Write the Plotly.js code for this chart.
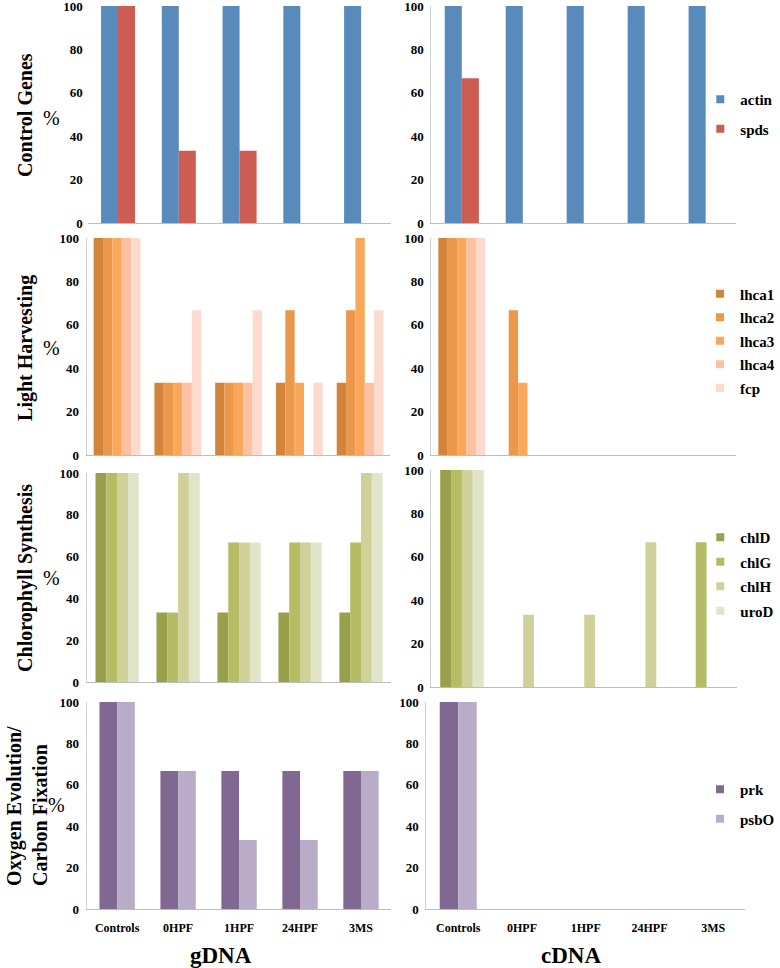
<!DOCTYPE html>
<html>
<head>
<meta charset="utf-8">
<script src="https://cdn.plot.ly/plotly-3.0.1.min.js"></script>
<style>html,body{margin:0;padding:0;background:#fff;}#chart{width:780px;height:968px;}</style>
</head>
<body>
<div id="chart"></div>
<script>
// ---- data ----
const categories = ['Controls', '0HPF', '1HPF', '24HPF', '3MS'];

const controlNames = ['actin', 'spds'];
const control_gDNA_actin = [100, 100, 100, 100, 100];
const control_gDNA_spds  = [100, 33.3, 33.3, 0, 0];
const control_cDNA_actin = [100, 100, 100, 100, 100];
const control_cDNA_spds  = [66.7, 0, 0, 0, 0];

const lightNames = ['lhca1', 'lhca2', 'lhca3', 'lhca4', 'fcp'];
const light_gDNA_lhca1 = [100, 33.3, 33.3, 33.3, 33.3];
const light_gDNA_lhca2 = [100, 33.3, 33.3, 66.7, 66.7];
const light_gDNA_lhca3 = [100, 33.3, 33.3, 33.3, 100];
const light_gDNA_lhca4 = [100, 33.3, 33.3, 0, 33.3];
const light_gDNA_fcp   = [100, 66.7, 66.7, 33.3, 66.7];
const light_cDNA_lhca1 = [100, 0, 0, 0, 0];
const light_cDNA_lhca2 = [100, 66.7, 0, 0, 0];
const light_cDNA_lhca3 = [100, 33.3, 0, 0, 0];
const light_cDNA_lhca4 = [100, 0, 0, 0, 0];
const light_cDNA_fcp   = [100, 0, 0, 0, 0];

const chlNames = ['chlD', 'chlG', 'chlH', 'uroD'];
const chl_gDNA_chlD = [100, 33.3, 33.3, 33.3, 33.3];
const chl_gDNA_chlG = [100, 33.3, 66.7, 66.7, 66.7];
const chl_gDNA_chlH = [100, 100, 66.7, 66.7, 100];
const chl_gDNA_uroD = [100, 100, 66.7, 66.7, 100];
const chl_cDNA_chlD = [100, 0, 0, 0, 0];
const chl_cDNA_chlG = [100, 0, 0, 0, 66.7];
const chl_cDNA_chlH = [100, 33.3, 33.3, 66.7, 0];
const chl_cDNA_uroD = [100, 0, 0, 0, 0];

const oxyNames = ['prk', 'psbO'];
const oxy_gDNA_prk  = [100, 66.7, 66.7, 66.7, 66.7];
const oxy_gDNA_psbO = [100, 66.7, 33.3, 33.3, 66.7];
const oxy_cDNA_prk  = [100, 0, 0, 0, 0];
const oxy_cDNA_psbO = [100, 0, 0, 0, 0];

const rowTitles = ['Control Genes', 'Light Harvesting', 'Chlorophyll Synthesis', 'Oxygen Evolution/<br>Carbon Fixation'];
const colTitles = ['gDNA', 'cDNA'];
const yTicks = [0, 20, 40, 60, 80, 100];

// ---- styling ----
const controlColors = ['rgb(88,139,187)', 'rgb(205,92,82)'];
const lightColors = ['rgb(210,132,58)', 'rgb(236,152,76)', 'rgb(250,167,90)', 'rgb(251,193,162)', 'rgb(252,219,206)'];
const chlColors = ['rgb(152,160,76)', 'rgb(181,188,100)', 'rgb(207,209,153)', 'rgb(225,228,201)'];
const oxyColors = ['rgb(128,104,146)', 'rgb(186,172,200)'];

const rows = [
  {names: controlNames, colors: controlColors, group: 0.56,
   g: [control_gDNA_actin, control_gDNA_spds], c: [control_cDNA_actin, control_cDNA_spds]},
  {names: lightNames, colors: lightColors, group: 0.77,
   g: [light_gDNA_lhca1, light_gDNA_lhca2, light_gDNA_lhca3, light_gDNA_lhca4, light_gDNA_fcp],
   c: [light_cDNA_lhca1, light_cDNA_lhca2, light_cDNA_lhca3, light_cDNA_lhca4, light_cDNA_fcp]},
  {names: chlNames, colors: chlColors, group: 0.71,
   g: [chl_gDNA_chlD, chl_gDNA_chlG, chl_gDNA_chlH, chl_gDNA_uroD],
   c: [chl_cDNA_chlD, chl_cDNA_chlG, chl_cDNA_chlH, chl_cDNA_uroD]},
  {names: oxyNames, colors: oxyColors, group: 0.58,
   g: [oxy_gDNA_prk, oxy_gDNA_psbO], c: [oxy_cDNA_prk, oxy_cDNA_psbO]}
];

// pixel boxes [x0,x1,y0(top),y1(bottom)]
const boxes = [
  [[88, 393, 6, 223], [433, 739, 6, 223]],
  [[87, 392, 238, 455], [433, 739, 238, 455]],
  [[87, 393, 473, 682], [433, 740, 470, 687]],
  [[87, 393, 702, 909], [428, 748, 702, 909]]
];
const legendCenters = [114, 341, 574, 804];
const legendGaps = [7, 1, 2, 7];
const W = 780, H = 968;
const serif = 'Liberation Serif, Times New Roman, serif';

const traces = [];
const layout = {
  width: W, height: H, margin: {l: 0, r: 0, t: 0, b: 0},
  paper_bgcolor: '#fff', plot_bgcolor: 'rgba(0,0,0,0)',
  barmode: 'overlay', showlegend: true,
  font: {family: serif, color: '#000'},
  annotations: []
};

rows.forEach((row, r) => {
  const n = row.names.length;
  const w = row.group / n;
  [row.g, row.c].forEach((series, c) => {
    const idx = r * 2 + c + 1;
    const xa = 'xaxis' + (idx === 1 ? '' : idx);
    const ya = 'yaxis' + (idx === 1 ? '' : idx);
    const b = boxes[r][c];
    layout[xa] = {
      domain: [b[0] / W, b[1] / W], anchor: 'y' + (idx === 1 ? '' : idx),
      type: 'category', categoryorder: 'array', categoryarray: categories,
      range: [-0.5, 4.5], showgrid: false, zeroline: false,
      showline: true, linecolor: '#BDBDBD', linewidth: 1, ticks: '',
      showticklabels: r === 3, ticklabelstandoff: 8,
      tickfont: {family: serif, size: 12, weight: 'bold', color: '#000'}
    };
    layout[ya] = {
      domain: [1 - b[3] / H, 1 - b[2] / H], anchor: 'x' + (idx === 1 ? '' : idx),
      range: [0, 100], tickvals: yTicks, showgrid: false, zeroline: false,
      showline: !(r === 0 && c === 0), linecolor: '#D0D0D0', linewidth: 1, ticks: '',
      ticklabelstandoff: 4, ticklabeloverflow: 'allow',
      tickfont: {family: serif, size: 13, weight: 'bold', color: '#000'}
    };
    series.forEach((vals, j) => {
      traces.push({
        type: 'bar', x: categories, y: vals, name: row.names[j],
        xaxis: 'x' + (idx === 1 ? '' : idx), yaxis: 'y' + (idx === 1 ? '' : idx),
        width: w, offset: -row.group / 2 + j * w,
        marker: {color: row.colors[j], line: {width: 0}},
        showlegend: false, hoverinfo: 'skip'
      });
    });
  });
  // legend entries
  const lg = 'legend' + (r === 0 ? '' : r + 1);
  row.names.forEach((nm, j) => {
    traces.push({
      type: 'scatter', mode: 'markers', x: [null], y: [null], name: nm,
      xaxis: 'x' + (r * 2 + 2), yaxis: 'y' + (r * 2 + 2),
      marker: {symbol: 'square', size: 8, color: row.colors[j]},
      legend: lg, legendgroup: 'g' + r + '_' + j, showlegend: true
    });
  });
  layout[lg] = {
    x: 703 / W, xanchor: 'left', y: 1 - legendCenters[r] / H, yanchor: 'middle',
    bgcolor: 'rgba(0,0,0,0)', borderwidth: 0, itemwidth: 30,
    tracegroupgap: legendGaps[r],
    font: {family: serif, size: 15, weight: 'bold', color: '#000'}
  };
  // row titles
  layout.annotations.push({
    text: rowTitles[r], xref: 'paper', yref: 'paper',
    x: (r === 3 ? 27 : 25) / W, y: 1 - [115, 348, 578, 806][r] / H,
    textangle: -90, showarrow: false, align: 'left',
    xanchor: 'center', yanchor: 'middle',
    font: {family: serif, size: 20, weight: 'bold', color: '#000'}
  });
  layout.annotations.push({
    text: '%', xref: 'paper', yref: 'paper',
    x: (r === 3 ? 57 : 52) / W, y: 1 - [118, 348, 578, 805][r] / H,
    showarrow: false, xanchor: 'center', yanchor: 'middle',
    font: {family: serif, size: 20, color: '#000'}
  });
});

colTitles.forEach((t, c) => {
  layout.annotations.push({
    text: t, xref: 'paper', yref: 'paper',
    x: [222, 573][c] / W, y: 1 - 955 / H, showarrow: false,
    xanchor: 'center', yanchor: 'middle',
    font: {family: serif, size: 23, weight: 'bold', color: '#000'}
  });
});

Plotly.newPlot('chart', traces, layout, {staticPlot: true, displayModeBar: false});
</script>
</body>
</html>
